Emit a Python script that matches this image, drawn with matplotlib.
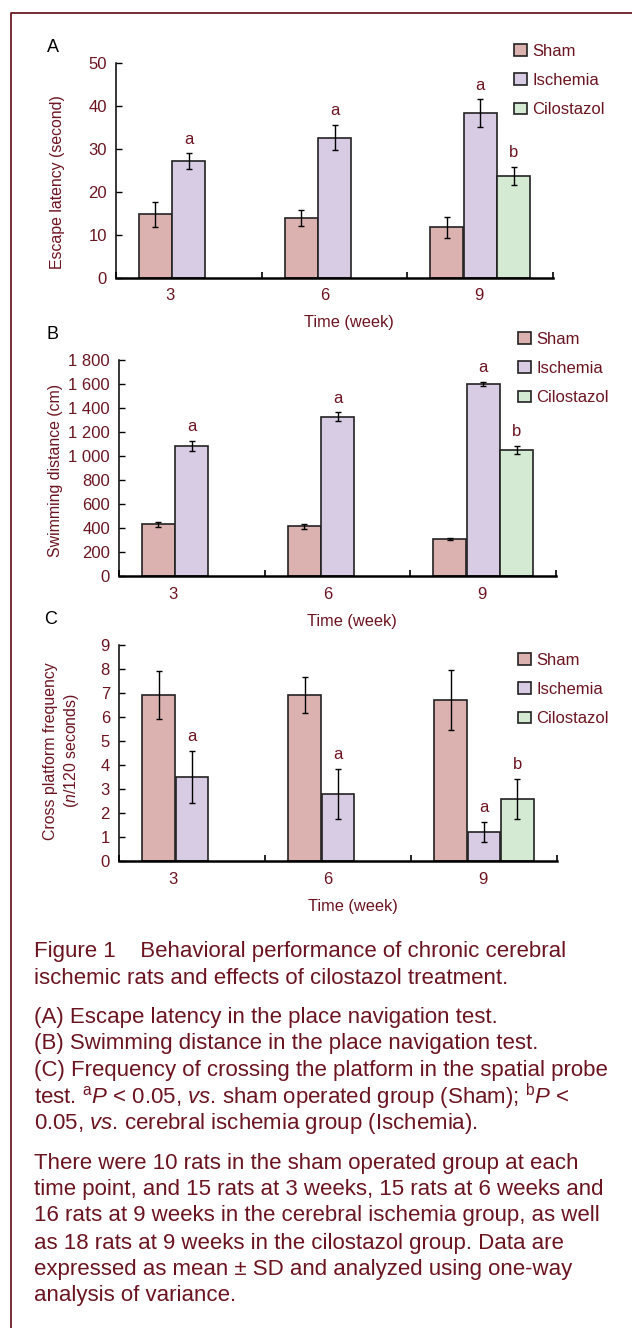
import numpy as np
import matplotlib
matplotlib.use("Agg")
import matplotlib.pyplot as plt

plt.rcParams['font.family'] = ['Liberation Sans', 'DejaVu Sans']
plt.rcParams['mathtext.fontset'] = 'custom'
plt.rcParams['mathtext.rm'] = 'Liberation Sans'
plt.rcParams['mathtext.it'] = 'Liberation Sans:italic'

# data
weeks = ['3', '6', '9']
groups = ['Sham', 'Ischemia', 'Cilostazol']

latency_sham = [14.7, 13.9, 11.7]
latency_sham_sd = [3.0, 1.8, 2.4]
latency_isch = [27.1, 32.6, 38.3]
latency_isch_sd = [1.8, 3.0, 3.2]
latency_cilo = [23.6]          # week 9 only
latency_cilo_sd = [2.1]

distance_sham = [431, 414, 308]
distance_sham_sd = [20, 20, 10]
distance_isch = [1083, 1328, 1600]
distance_isch_sd = [45, 36, 20]
distance_cilo = [1053]
distance_cilo_sd = [33]

cross_sham = [6.9, 6.9, 6.7]
cross_sham_sd = [1.0, 0.75, 1.25]
cross_isch = [3.5, 2.8, 1.2]
cross_isch_sd = [1.1, 1.05, 0.42]
cross_cilo = [2.6]
cross_cilo_sd = [0.83]

isch_marks = ['a', 'a', 'a']
cilo_marks = ['b']

colors = ['#dcb2b1', '#d8cce5', '#d5ead2']
TXT = '#6b1420'
W, H = 632, 1328

fig = plt.figure(figsize=(W / 100, H / 100), dpi=100)


def rect(l, r, t, b):
    return [l / W, 1 - b / H, (r - l) / W, (b - t) / H]


def panel(box, letter, sham, sham_sd, isch, isch_sd, cilo, cilo_sd, ymax, yticks, yticklabels,
          leg_xy, letter_xy):
    ax = fig.add_axes(rect(*box))
    x = np.arange(len(weeks))
    w = 0.225
    ekw = dict(elinewidth=1, capthick=1, ecolor='black')
    kw = dict(edgecolor='#222222', linewidth=1.2, capsize=2.4, error_kw=ekw)
    b1 = ax.bar(x - 0.229, sham, w, yerr=sham_sd, color=colors[0], **kw)
    b2 = ax.bar(x, isch, w, yerr=isch_sd, color=colors[1], **kw)
    xc = x[-len(cilo):] + 0.229
    b3 = ax.bar(xc, cilo, w, yerr=cilo_sd, color=colors[2], **kw)
    for xs, vals, sds, marks in [(x, isch, isch_sd, isch_marks), (xc, cilo, cilo_sd, cilo_marks)]:
        for xi, v, e, m in zip(xs, vals, sds, marks):
            ax.annotate(m, (xi, v + e), xytext=(0, 7), textcoords='offset points',
                        ha='center', va='baseline', color=TXT, fontsize=12)
    ax.set_xlim(-0.5, len(weeks) - 0.5)
    ax.set_ylim(0, ymax)
    ax.set_yticks(yticks)
    ax.set_yticklabels(yticklabels, fontsize=12, color=TXT)
    ax.tick_params(axis='y', direction='in', length=4, width=1, pad=6.5)
    ax.set_xticks(np.arange(len(weeks) + 1) - 0.5)
    ax.set_xticklabels([])
    ax.tick_params(axis='x', direction='in', length=4, width=1.2)
    # category labels sit a little left of the group centres in the original
    for p, lab in zip([-0.13, 0.93, 1.99], weeks):
        ax.text(p, -0.085, lab, transform=ax.get_xaxis_transform(), ha='center', va='center',
                fontsize=12, color=TXT)
    ax.text(0.533, -0.21, 'Time (week)', transform=ax.transAxes, ha='center', va='center',
            fontsize=11.8, color=TXT)
    for s in ['top', 'right']:
        ax.spines[s].set_visible(False)
    ax.spines['left'].set_linewidth(1.1)
    ax.spines['bottom'].set_linewidth(1.8)
    ax.set_facecolor('none')
    fig.text(letter_xy[0] / W, 1 - letter_xy[1] / H, letter, ha='center', va='center',
             fontsize=13, color='black')
    fig.legend([b1, b2, b3], groups, loc='upper left',
               bbox_to_anchor=(leg_xy[0] / W, 1 - leg_xy[1] / H), frameon=False,
               handlelength=0.78, handleheight=0.7, handletextpad=0.3,
               labelspacing=0.86, borderpad=0, borderaxespad=0,
               fontsize=12, labelcolor=TXT)
    return ax


panel((116, 553, 62.7, 277.7), 'A', latency_sham, latency_sham_sd, latency_isch, latency_isch_sd,
      latency_cilo, latency_cilo_sd, 50, [0, 10, 20, 30, 40, 50],
      ['0', '10', '20', '30', '40', '50'], (514, 43.5), (53, 47))
panel((119, 556, 360, 576), 'B', distance_sham, distance_sham_sd, distance_isch,
      distance_isch_sd, distance_cilo, distance_cilo_sd, 1800, list(range(0, 1801, 200)),
      ['0', '200', '400', '600', '800', '1 000', '1 200', '1 400', '1 600', '1 800'],
      (518, 331.5), (53, 335))
panel((119, 557, 645, 861), 'C', cross_sham, cross_sham_sd, cross_isch, cross_isch_sd,
      cross_cilo, cross_cilo_sd, 9, list(range(10)), [str(i) for i in range(10)],
      (518, 652.5), (51, 620))

# y labels
fig.text(57.8 / W, 1 - 181.7 / H, 'Escape latency (second)', rotation=90, ha='center',
         va='center', fontsize=11.4, color=TXT)
fig.text(55.8 / W, 1 - 470.8 / H, 'Swimming distance (cm)', rotation=90, ha='center',
         va='center', fontsize=11.4, color=TXT)
fig.text(62 / W, 1 - 751 / H, 'Cross platform frequency\n($\\it{n}$/120 seconds)', rotation=90,
         ha='center', va='center', fontsize=11.4, color=TXT, linespacing=1.3)

# caption
cap = [
    (952, 'Figure 1    Behavioral performance of chronic cerebral'),
    (978.7, 'ischemic rats and effects of cilostazol treatment.'),
    (1018, '(A) Escape latency in the place navigation test.'),
    (1043, '(B) Swimming distance in the place navigation test.'),
    (1070.7, '(C) Frequency of crossing the platform in the spatial probe'),
    (1097, 'test. $^{\\mathrm{a}}$$\\it{P}$ < 0.05, $\\it{vs}$. sham operated group (Sham); $^{\\mathrm{b}}$$\\it{P}$ <'),
    (1124, '0.05, $\\it{vs}$. cerebral ischemia group (Ischemia).'),
    (1163, 'There were 10 rats in the sham operated group at each'),
    (1189, 'time point, and 15 rats at 3 weeks, 15 rats at 6 weeks and'),
    (1216, '16 rats at 9 weeks in the cerebral ischemia group, as well'),
    (1243, 'as 18 rats at 9 weeks in the cilostazol group. Data are'),
    (1269, 'expressed as mean \u00b1 SD and analyzed using one-way'),
    (1296, 'analysis of variance.'),
]
for yy, s in cap:
    fig.text(33.8 / W, 1 - yy / H, s, ha='left', va='center', fontsize=16, color=TXT)

# frame on left and top
fig.add_artist(plt.Line2D([11 / W, 11 / W, 1], [0, 1 - 13 / H, 1 - 13 / H],
                          transform=fig.transFigure, color='#6b1a22', linewidth=1.3))

fig.savefig('out.png', dpi=100)
